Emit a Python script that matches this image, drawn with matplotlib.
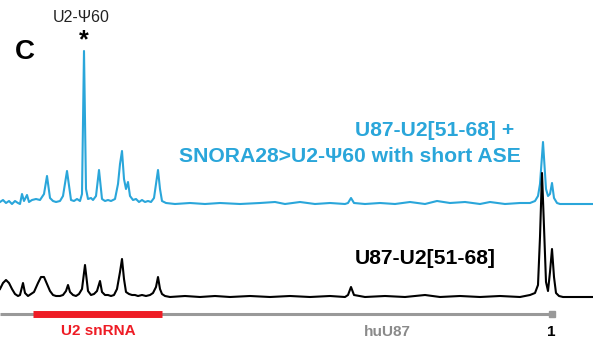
import matplotlib
matplotlib.use("Agg")
import matplotlib.pyplot as plt

plt.rcParams['font.family'] = ['Liberation Sans', 'DejaVu Sans']

# trace positions (x) and signal above baseline
blue_x = [0, 3, 6, 9, 12, 15, 18, 20, 22, 24, 27, 29, 32, 36, 40, 44, 47, 50, 53,
          56, 60, 63, 67, 71, 74, 77, 80, 82, 84, 86, 88, 91, 93, 96, 99, 102, 105,
          108, 111, 115, 118, 120, 122, 124, 126, 128, 130, 133, 136, 139, 142, 145,
          148, 151, 154, 156, 158, 160, 162, 166, 175, 190, 205, 220, 240, 260, 275,
          285, 300, 315, 330, 345, 348, 351, 354, 365, 380, 395, 410, 425, 437, 450,
          465, 480, 490, 505, 520, 530, 535, 538, 540, 543, 546, 548, 550, 552, 554,
          557, 560, 575, 593]
blue_y = [2, 4, 1, 3, 0, 3, 1, 0, 10, 3, 9, 2, 4, 5, 4, 10, 28, 6, 3,
          2, 3, 8, 33, 4, 3, 5, 3, 10, 153, 15, 5, 6, 4, 8, 34, 5, 3,
          4, 3, 5, 20, 40, 53, 25, 15, 22, 8, 4, 5, 2, 4, 2,
          3, 2, 6, 20, 34, 15, 3, 1, 0, 1, 0, 1, 0, 1, 2,
          0, 2, 0, 1, 0, 1, 6, 1, 0, 1, 0, 2, 0, 3, 1,
          2, 0, 2, 0, 1, 1, 3, 8, 20, 62, 15, 8, 10, 21, 6,
          1, 0, 0, 0]

black_x = [0, 3, 6, 9, 12, 15, 18, 20, 23, 25, 28, 31, 34, 38, 41, 44, 47, 50, 53,
           56, 60, 63, 66, 68, 70, 73, 76, 79, 82, 85, 88, 91, 94, 97, 100, 102, 105,
           108, 111, 114, 117, 120, 122, 124, 126, 129, 132, 135, 138, 142, 146, 150,
           153, 156, 158, 160, 162, 165, 170, 185, 200, 215, 230, 250, 270, 290, 310,
           330, 345, 348, 351, 354, 365, 385, 405, 425, 440, 460, 480, 500, 520, 530,
           535, 538, 540, 542, 544, 546, 548, 550, 552, 554, 556, 559, 563, 578, 593]
black_y = [8, 14, 17, 14, 8, 3, 1, 2, 14, 4, 1, 3, 5, 14, 20, 20, 13, 6, 2,
           1, 1, 2, 6, 12, 5, 2, 1, 3, 8, 32, 6, 2, 3, 6, 16, 5, 2,
           2, 1, 2, 8, 25, 38, 18, 5, 3, 2, 2, 1, 2, 1, 2,
           4, 10, 20, 8, 3, 1, 0, 1, 0, 1, 0, 1, 0, 1, 0,
           1, 0, 2, 10, 2, 0, 1, 0, 2, 0, 1, 0, 1, 0, 2,
           4, 12, 60, 124, 70, 15, 6, 25, 48, 20, 4, 1, 0, 0, 0]

blue_base = 136
black_base = 43

# huU87 map and the U2 snRNA insert
map_start, map_end = 0, 552
u2_start, u2_end = 33, 162
map_level = 26

blue = '#2AA6DA'

fig = plt.figure(figsize=(5.93, 3.40), dpi=100)
ax = fig.add_axes([0, 0, 1, 1])
ax.set_xlim(0, 593)
ax.set_ylim(0, 340)
ax.axis('off')

ax.plot(blue_x, [blue_base + v for v in blue_y], color=blue, lw=1.5, zorder=2)
ax.plot(black_x, [black_base + v for v in black_y], color='black', lw=1.5, zorder=3)

ax.plot([map_start, map_end], [map_level, map_level], color='#999999', lw=2.2,
        solid_capstyle='butt', zorder=2)
ax.plot([map_end], [map_level], marker='s', ms=4, color='#999999', zorder=2)
ax.plot([u2_start, u2_end], [map_level, map_level], color='#EE1C25', lw=5,
        solid_capstyle='butt', zorder=3)

ax.text(25, 288, 'C', fontsize=20, fontweight='bold', ha='center', va='center')
ax.text(81, 322, 'U2-\u03a860', fontsize=11.5, ha='center', va='center', color='#222222')
ax.text(84, 300, '*', fontsize=18, fontweight='bold', ha='center', va='center')

ax.text(514, 210, 'U87-U2[51-68] +', fontsize=15.2, fontweight='bold', color=blue,
        ha='right', va='center')
ax.text(521, 183, 'SNORA28>U2-\u03a860 with short ASE', fontsize=15.2, fontweight='bold',
        color=blue, ha='right', va='center')
ax.text(425, 81, 'U87-U2[51-68]', fontsize=15.2, fontweight='bold', color='black',
        ha='center', va='center')

ax.text(98, 9, 'U2 snRNA', fontsize=11, fontweight='bold', color='#EE1C25',
        ha='center', va='center')
ax.text(387, 8, 'huU87', fontsize=11, fontweight='bold', color='#8a8a8a',
        ha='center', va='center')
ax.text(551, 8, '1', fontsize=11, fontweight='bold', color='black',
        ha='center', va='center')

fig.savefig('out.png', dpi=100)
